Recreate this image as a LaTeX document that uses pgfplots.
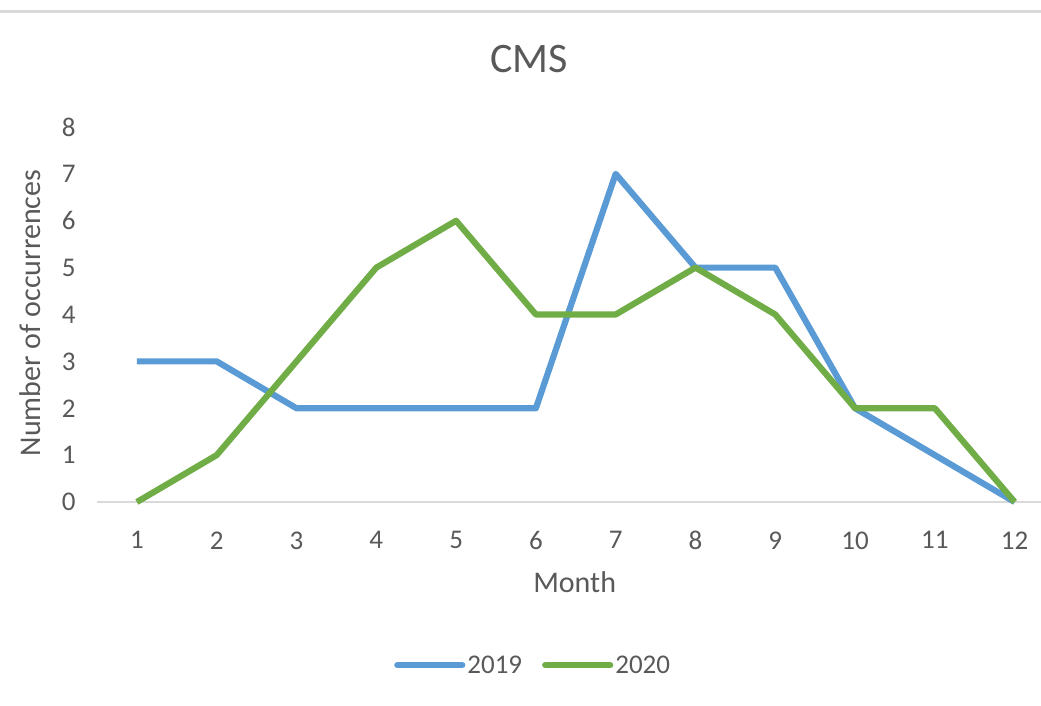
\documentclass[border=0pt]{standalone}
\usepackage{fontspec}
\setmainfont{Carlito}
\usepackage{pgfplots}
\pgfplotsset{compat=1.18}
\definecolor{sblue}{HTML}{5B9BD5}
\definecolor{sgreen}{HTML}{70AD47}
\definecolor{txtgray}{HTML}{595959}
\definecolor{linegray}{HTML}{D9D9D9}
\begin{document}
\begin{tikzpicture}
\useasboundingbox (0,0) rectangle (1041bp,706bp);
\draw[linegray, line width=3bp] (0,694bp) -- (1041bp,694bp);
\begin{axis}[
  at={(97bp,204bp)}, anchor=south west,
  scale only axis, width=944bp, height=375bp,
  xmin=0.5, xmax=12.33, ymin=0, ymax=8,
  clip=false,
  axis lines*=left,
  y axis line style={draw=none},
  x axis line style={draw=linegray, line width=1.5bp},
  xtick={1,...,12}, ytick={0,...,8},
  major tick length=0pt,
  /pgf/number format/assume math mode=true,
  tick label style={font=\fontsize{27bp}{32bp}\selectfont, text=txtgray},
  xticklabel style={yshift=-26bp},
  yticklabel style={xshift=-18bp},
  title={CMS},
  title style={font=\fontsize{42bp}{50bp}\selectfont, text=txtgray, at={(axis description cs:0.4576,1)}, anchor=center, yshift=62bp},
  xlabel={Month},
  xlabel style={font=\fontsize{30bp}{36bp}\selectfont, text=txtgray, at={(axis description cs:0.506,0)}, anchor=center, yshift=-80bp},
  ylabel={Number of occurrences},
  ylabel style={font=\fontsize{30bp}{36bp}\selectfont, text=txtgray, at={(axis description cs:-0.071,0.504)}, anchor=center, rotate=0},
  legend columns=2,
  legend style={draw=none, fill=none, at={(axis description cs:0.462,-0.435)}, anchor=center,
    font=\fontsize{27bp}{32bp}\selectfont, text=txtgray, inner sep=0pt,
    nodes={inner sep=2bp},
    /tikz/every even column/.append style={column sep=18bp}},
  legend image code/.code={\draw[#1, line cap=round] (0bp,0bp) -- (65bp,0bp);},
  every axis plot/.append style={line width=6.2bp, line join=round, mark=none},
]
\addplot[sblue] coordinates {(1,3) (2,3) (3,2) (4,2) (5,2) (6,2) (7,7) (8,5) (9,5) (10,2) (11,1) (12,0)};
\addlegendentry{2019}
\addplot[sgreen] coordinates {(1,0) (2,1) (3,3) (4,5) (5,6) (6,4) (7,4) (8,5) (9,4) (10,2) (11,2) (12,0)};
\addlegendentry{2020}
\end{axis}
\end{tikzpicture}
\end{document}
